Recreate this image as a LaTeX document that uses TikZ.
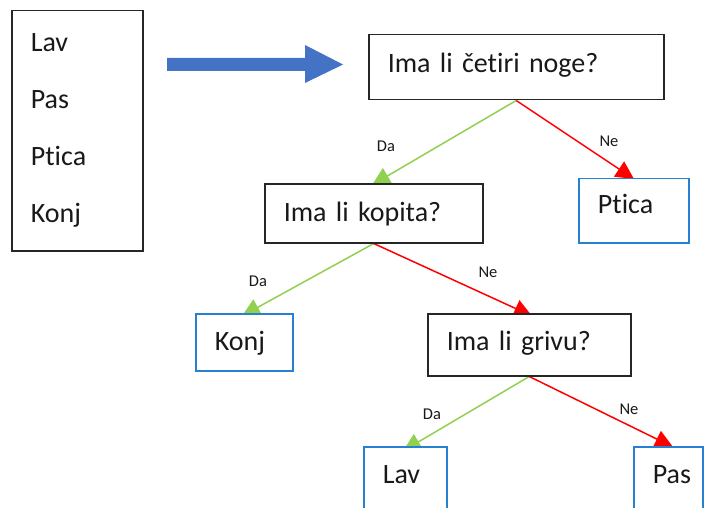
\documentclass[tikz,border=0pt]{standalone}
\usepackage{fontspec}
\setmainfont{Carlito}[Ligatures=NoCommon]
\usetikzlibrary{arrows.meta}
\definecolor{boxblue}{RGB}{40,128,208}
\definecolor{arrowblue}{RGB}{68,114,196}
\definecolor{yesgreen}{RGB}{146,208,80}
\definecolor{nored}{RGB}{255,0,0}
\definecolor{txt}{RGB}{25,25,25}
\pgfdeclarelayer{background}
\pgfsetlayers{background,main}
\begin{document}
\begin{tikzpicture}[x=1pt,y=-1pt,
  qbox/.style={draw=black!85, line width=1.5pt, fill=white, anchor=north west,
    inner xsep=19pt, inner ysep=0pt, align=left, text=txt,
    font=\fontsize{28}{34}\selectfont},
  leaf/.style={qbox, draw=boxblue},
  lbl/.style={font=\fontsize{16.5}{18}\selectfont, text=txt, inner sep=0pt},
  yes/.style={draw=yesgreen, line width=1.5pt, -{Triangle[length=18pt,width=18pt]}},
  no/.style={draw=nored, line width=1.5pt, -{Triangle[length=18pt,width=18pt]}}
]
\useasboundingbox (0,0) rectangle (707,508);
\clip (0,0) rectangle (707,508);

% boxes
\node[qbox, text width=93pt, minimum height=240pt,
      font=\fontsize{28}{57}\selectfont] (list) at (11,10) {Lav\\Pas\\Ptica\\Konj};
\node[qbox, text width=257pt, text height=38pt, text depth=27pt] (q1) at (368,34) {Ima li četiri noge?};
\node[qbox, text width=180pt, text height=38pt, text depth=21pt] (q2) at (264,183) {Ima li kopita?};
\node[qbox, text width=165pt, text height=37pt, text depth=25pt] (q3) at (427,313) {Ima li grivu?};
\node[leaf, text width=72pt, text height=35pt, text depth=29pt] (ptica) at (578,178) {Ptica};
\node[leaf, text width=59pt, text height=37pt, text depth=20pt] (konj) at (195,313) {Konj};
\node[leaf, text width=45pt, text height=37pt, text depth=43pt] (lav) at (363,446) {Lav};
\node[leaf, text width=31pt, text height=37pt, text depth=43pt] (pas) at (633,446) {Pas};

% arrow tips (partly hidden under the boxes)
\coordinate (t1) at (372,185);
\coordinate (t2) at (634,179);
\coordinate (t3) at (242,316);
\coordinate (t4) at (532,316);
\coordinate (t5) at (403,451);
\coordinate (t6) at (673,447);

\begin{pgfonlayer}{background}
\fill[white] (0,0) rectangle (707,508);
\draw[yes] (q1.south) -- (t1);
\draw[no]  (q1.south) -- (t2);
\draw[yes] (q2.south) -- (t3);
\draw[no]  (q2.south) -- (t4);
\draw[yes] (q3.south) -- (t5);
\draw[no]  (q3.south) -- (t6);
\end{pgfonlayer}

% edge labels
\node[lbl] (da1) at (386,146) {Da};
\node[lbl] (ne1) at (609,141) {Ne};
\node[lbl] (da2) at (258,281) {Da};
\node[lbl] (ne2) at (488,272) {Ne};
\node[lbl] (da3) at (432,414) {Da};
\node[lbl] (ne3) at (629,409) {Ne};

% big blue arrow
\fill[arrowblue] (167,58) -- (305,58) -- (305,45) -- (343,64.5) -- (305,83) -- (305,71) -- (167,71) -- cycle;
\end{tikzpicture}
\end{document}
